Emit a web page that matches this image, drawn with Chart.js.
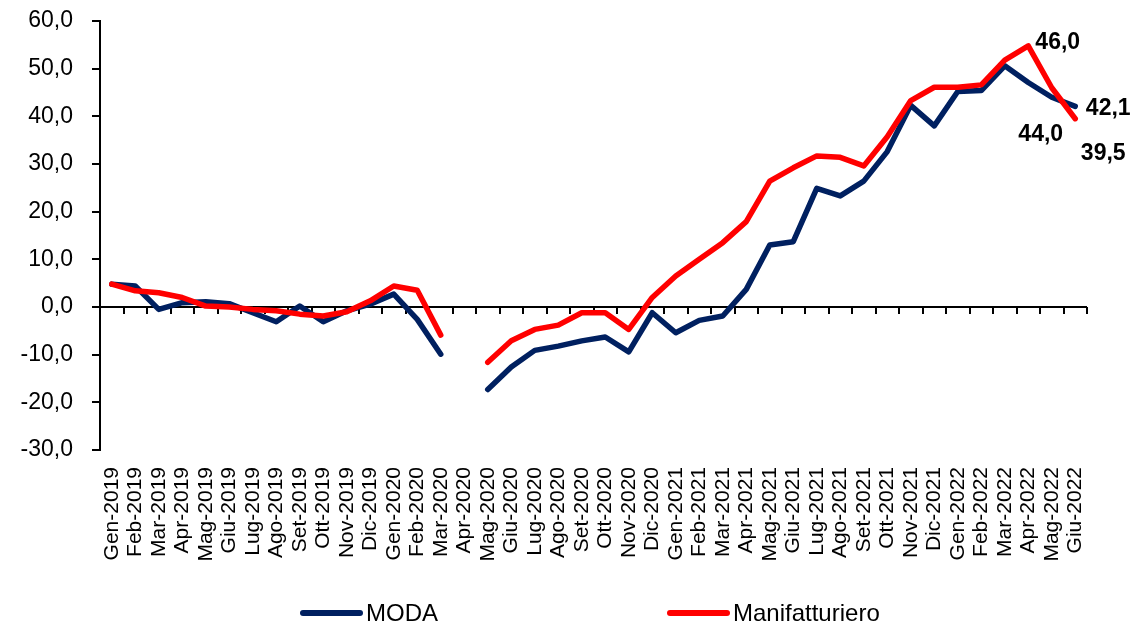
<!DOCTYPE html>
<html>
<head>
<meta charset="utf-8">
<script src="https://cdn.jsdelivr.net/npm/chart.js@4"></script>
<style>
  html, body { margin: 0; padding: 0; background: #fff; }
  #wrap { width: 1135px; height: 628px; }
</style>
</head>
<body>
<div id="wrap"><canvas id="chartModa" width="1135" height="628"></canvas></div>
<script>
const months = [
    "Gen-2019", "Feb-2019", "Mar-2019", "Apr-2019", "Mag-2019", "Giu-2019",
    "Lug-2019", "Ago-2019", "Set-2019", "Ott-2019", "Nov-2019", "Dic-2019",
    "Gen-2020", "Feb-2020", "Mar-2020", "Apr-2020", "Mag-2020", "Giu-2020",
    "Lug-2020", "Ago-2020", "Set-2020", "Ott-2020", "Nov-2020", "Dic-2020",
    "Gen-2021", "Feb-2021", "Mar-2021", "Apr-2021", "Mag-2021", "Giu-2021",
    "Lug-2021", "Ago-2021", "Set-2021", "Ott-2021", "Nov-2021", "Dic-2021",
    "Gen-2022", "Feb-2022", "Mar-2022", "Apr-2022", "Mag-2022", "Giu-2022"
];

const moda = [
    4.8, 4.4, -0.5, 0.9, 1.1, 0.7, -1.2, -3.1, 0.2, -3.1, -0.8, 0.6,
    2.7, -2.6, -9.9, null, -17.3, -12.6, -9.1, -8.2, -7.1, -6.3, -9.4, -1.2,
    -5.4, -2.8, -1.9, 3.7, 13.0, 13.7, 24.9, 23.3, 26.4, 32.6, 42.3, 38.0,
    45.2, 45.4, 50.6, 47.1, 44.0, 42.1
];

const manifatturiero = [
    4.8, 3.4, 3.0, 2.0, 0.2, 0.0, -0.5, -0.8, -1.5, -1.9, -1.0, 1.3,
    4.4, 3.5, -5.9, null, -11.6, -7.1, -4.7, -3.8, -1.2, -1.2, -4.7, 2.0,
    6.5, 10.0, 13.5, 17.9, 26.4, 29.2, 31.7, 31.4, 29.6, 35.7, 43.3, 46.1,
    46.1, 46.6, 51.8, 54.8, 46.0, 39.5
];

const yTicksMin = -30;
const yTicksMax = 60;
const yStep = 10;

const navy = "#002060";
const red = "#ff0000";
const sans = "'Liberation Sans', Arial, sans-serif";

function fmt(v) {
    return v.toFixed(1).replace(".", ",");
}

// labels shown on the last points: [dataset, index, dx, dy]
const valueLabels = [
    [1, 40, 6, -45],
    [0, 40, -11, 37],
    [0, 41, 33, 2],
    [1, 41, 28, 35]
];

const zeroTicks = {
    id: "zeroTicks",
    beforeDatasetsDraw(chart) {
        const x = chart.scales.x;
        const y = chart.scales.y;
        const ctx = chart.ctx;
        const half = (x.getPixelForValue(1) - x.getPixelForValue(0)) / 2;
        const y0 = y.getPixelForValue(0);
        ctx.save();
        ctx.strokeStyle = "#000";
        ctx.lineWidth = 2;
        ctx.beginPath();
        for (let i = 0; i < months.length; i++) {
            const px = Math.round(x.getPixelForValue(i) + half);
            ctx.moveTo(px, y0);
            ctx.lineTo(px, y0 + 7);
        }
        ctx.stroke();
        ctx.restore();
    }
};

const lastLabels = {
    id: "lastLabels",
    afterDatasetsDraw(chart) {
        const ctx = chart.ctx;
        ctx.save();
        ctx.font = "bold 23px " + sans;
        ctx.fillStyle = "#000";
        ctx.textAlign = "center";
        ctx.textBaseline = "middle";
        valueLabels.forEach(([ds, idx, dx, dy]) => {
            const pt = chart.getDatasetMeta(ds).data[idx];
            const v = chart.data.datasets[ds].data[idx];
            ctx.fillText(fmt(v), pt.x + dx, pt.y + dy);
        });
        ctx.restore();
    }
};

const bottomLegend = {
    id: "bottomLegend",
    afterDraw(chart) {
        const ctx = chart.ctx;
        const items = [[0, 300], [1, 667]];
        ctx.save();
        ctx.font = "24px " + sans;
        ctx.textBaseline = "middle";
        ctx.textAlign = "left";
        items.forEach(([ds, x0]) => {
            const d = chart.data.datasets[ds];
            ctx.strokeStyle = d.borderColor;
            ctx.lineWidth = 6;
            ctx.lineCap = "round";
            ctx.beginPath();
            ctx.moveTo(x0 + 3, 613);
            ctx.lineTo(x0 + 60, 613);
            ctx.stroke();
            ctx.fillStyle = "#000";
            ctx.fillText(d.label, x0 + 66, 614);
        });
        ctx.restore();
    }
};

new Chart(document.getElementById("chartModa"), {
    type: "line",
    data: {
        labels: months,
        datasets: [{
            label: "MODA",
            data: moda,
            borderColor: navy,
            backgroundColor: navy,
            borderWidth: 5.5,
            pointRadius: 0,
            borderJoinStyle: "round",
            borderCapStyle: "round",
            spanGaps: false,
            order: 2
        }, {
            label: "Manifatturiero",
            data: manifatturiero,
            borderColor: red,
            backgroundColor: red,
            borderWidth: 5.5,
            pointRadius: 0,
            borderJoinStyle: "round",
            borderCapStyle: "round",
            spanGaps: false,
            order: 1
        }]
    },
    options: {
        responsive: false,
        animation: false,
        layout: {
            padding: { top: 21, right: 48, left: 0, bottom: 0 }
        },
        plugins: {
            legend: { display: false },
            tooltip: { enabled: false }
        },
        scales: {
            x: {
                offset: true,
                grid: { display: false, drawTicks: false },
                border: { display: false },
                ticks: {
                    autoSkip: false,
                    minRotation: 90,
                    maxRotation: 90,
                    padding: 17,
                    color: "#000",
                    font: { family: sans, size: 21 }
                },
                afterFit(scale) { scale.height = 178; }
            },
            y: {
                min: yTicksMin,
                max: yTicksMax,
                ticks: {
                    stepSize: yStep,
                    padding: 19,
                    color: "#000",
                    font: { family: sans, size: 23 },
                    callback: (v) => fmt(v)
                },
                grid: {
                    color: (c) => c.tick && c.tick.value === 0 ? "#000" : "rgba(0,0,0,0)",
                    lineWidth: 2,
                    tickLength: 8,
                    tickColor: "#000",
                    tickWidth: 2
                },
                border: { display: true, color: "#000", width: 2 },
                afterFit(scale) {
                    scale.width = 100;
                    scale.paddingTop = 0;
                    scale.paddingBottom = 0;
                }
            }
        }
    },
    plugins: [zeroTicks, lastLabels, bottomLegend]
});
</script>
</body>
</html>
